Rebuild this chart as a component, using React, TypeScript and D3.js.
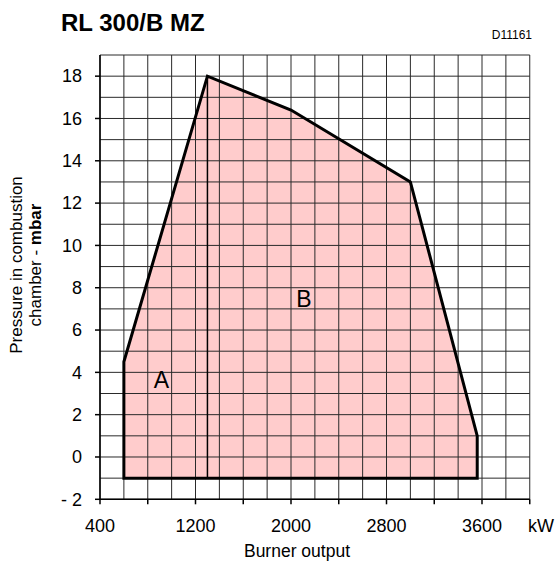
import React from "react";
import * as d3 from "d3";

const areaX: number[] = [600, 600, 1300, 2000, 3000, 3560, 3560];
const areaY: number[] = [-1, 4.5, 18, 16.4, 13, 1, -1];
const dividerX: number[] = [1300, 1300];
const dividerY: number[] = [-1, 18];
const xTickLabels: number[] = [400, 1200, 2000, 2800, 3600];
const yTickLabels: number[] = [-2, 0, 2, 4, 6, 8, 10, 12, 14, 16, 18];
const regionLabels: string[] = ["A", "B"];
const regionLabelX: number[] = [915, 2109];
const regionLabelY: number[] = [3.26, 7.09];

const W = 555;
const H = 562;
const left = 100;
const right = 529.75;
const top = 55;
const bottom = 499.3;
const font = "Arial, 'Liberation Sans', Helvetica, sans-serif";

export default function App() {
  const x = d3.scaleLinear().domain([400, 4000]).range([left, right]);
  const y = d3.scaleLinear().domain([-2, 19]).range([bottom, top]);

  const gridX = d3.range(400, 4000 + 1, 200);
  const gridY = d3.range(-2, 19 + 1, 1);
  const xTicks = d3.range(400, 4000 + 1, 400);
  const yTicks = d3.range(-2, 19, 2);

  const pts: [number, number][] = areaX.map((v, i) => [v, areaY[i]]);
  const line = d3
    .line<[number, number]>()
    .x((d) => x(d[0]))
    .y((d) => y(d[1]));
  const polyPath = line(pts) + "Z";
  const divPts: [number, number][] = dividerX.map((v, i) => [v, dividerY[i]]);

  return (
    <svg
      width={W}
      height={H}
      style={{ position: "absolute", left: 0, top: 0, background: "#fff" }}
      fontFamily={font}
    >
      <rect x={0} y={0} width={W} height={H} fill="#fff" />
      <path d={polyPath} fill="#ffcccc" stroke="none" />
      <g stroke="#2a2a2a" strokeWidth={1}>
        {gridX.map((v) => (
          <line key={"gx" + v} x1={x(v)} x2={x(v)} y1={top} y2={bottom} />
        ))}
        {gridY.map((v) => (
          <line key={"gy" + v} x1={left} x2={right} y1={y(v)} y2={y(v)} />
        ))}
      </g>
      <g stroke="#000" strokeWidth={1.5}>
        <line x1={left} x2={left} y1={top} y2={bottom} />
        <line x1={left} x2={right} y1={bottom} y2={bottom} />
        {xTicks.map((v) => (
          <line key={"xt" + v} x1={x(v)} x2={x(v)} y1={bottom} y2={bottom + 5} />
        ))}
        {yTicks.map((v) => (
          <line key={"yt" + v} x1={left - 5} x2={left} y1={y(v)} y2={y(v)} />
        ))}
      </g>
      <path d={line(divPts) || ""} stroke="#000" strokeWidth={1.5} fill="none" />
      <path d={polyPath} fill="none" stroke="#000" strokeWidth={3} strokeLinejoin="miter" />
      {regionLabels.map((t, i) => (
        <text
          key={t}
          x={x(regionLabelX[i])}
          y={y(regionLabelY[i])}
          fontSize={23}
          textAnchor="middle"
          fill="#000"
        >
          {t}
        </text>
      ))}
      {yTickLabels.map((v) => (
        <text
          key={"yl" + v}
          x={82}
          y={y(v)}
          dy="0.35em"
          fontSize={18}
          textAnchor="end"
          fill="#000"
        >
          {v < 0 ? "- " + Math.abs(v) : String(v)}
        </text>
      ))}
      {xTickLabels.map((v) => (
        <text
          key={"xl" + v}
          x={x(v)}
          y={532}
          fontSize={18}
          textAnchor="middle"
          fill="#000"
        >
          {v}
        </text>
      ))}
      <text x={528} y={532} fontSize={18} fill="#000">
        kW
      </text>
      <text x={297} y={557} fontSize={17.5} textAnchor="middle" fill="#000">
        Burner output
      </text>
      <g transform="translate(0,265) rotate(-90)">
        <text x={0} y={22} fontSize={17} textAnchor="middle" fill="#000">
          Pressure in combustion
        </text>
        <text x={0} y={41} fontSize={17} textAnchor="middle" fill="#000">
          chamber - <tspan fontWeight="bold">mbar</tspan>
        </text>
      </g>
      <text x={61} y={31} fontSize={24} fontWeight="bold" fill="#000">
        RL 300/B MZ
      </text>
      <text x={532} y={39} fontSize={12} textAnchor="end" fill="#000">
        D11161
      </text>
    </svg>
  );
}
